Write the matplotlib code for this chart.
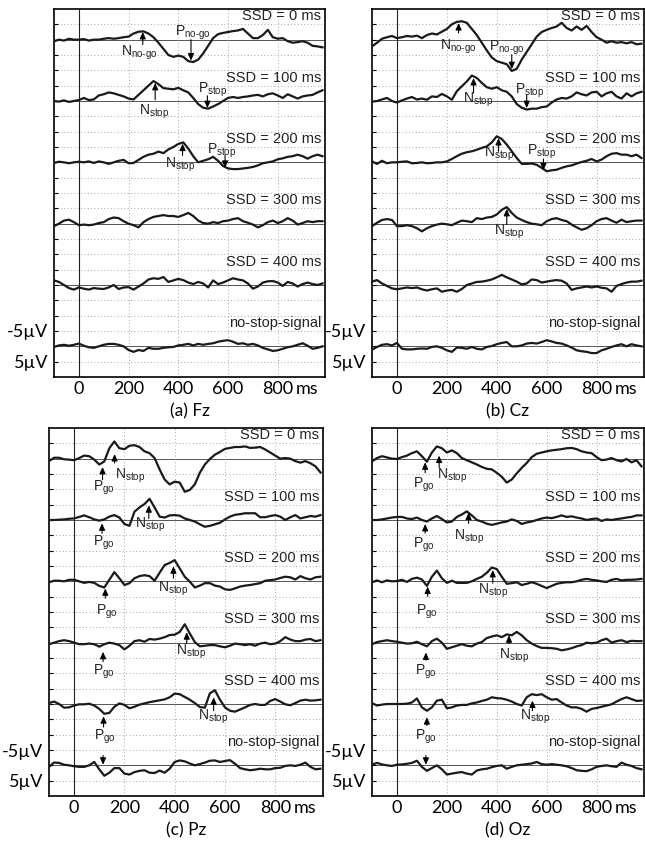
import numpy as np
import matplotlib.pyplot as plt

plt.rcParams['font.family'] = ['Liberation Sans', 'DejaVu Sans']
plt.rcParams['mathtext.fontset'] = 'custom'
plt.rcParams['mathtext.rm'] = 'Liberation Sans'
plt.rcParams['mathtext.default'] = 'regular'

# time axis (ms) and trace labels
time_ms = np.arange(-100, 1000, 20)
conditions = ['SSD = 0 ms', 'SSD = 100 ms', 'SSD = 200 ms', 'SSD = 300 ms', 'SSD = 400 ms', 'no-stop-signal']
x_ticks = [0, 200, 400, 600, 800]
x_ticklabels = ['0', '200', '400', '600', '800']
x_unit = 'ms'

# ERP amplitudes in uV (negative plotted upwards), one list per condition
fz_ssd0 = [0.5,0,0.3,-0.3,0,0,-0.2,0.3,0,0,-0.3,-0.5,-0.3,-0.5,-0.8,-1.0,-2.0,-2.6,-2.7,-2.0,-0.8,1.0,3.0,5.0,5.6,5.2,5.6,7.0,7.3,6.5,4.5,2.0,-0.5,-1.8,-2.2,-2.5,-2.8,-3.0,-3.5,-2.0,-0.5,-0.5,-1.5,-3.2,-0.8,-0.3,-0.5,0.5,1.0,0.8,0.5,1.0,2.0,2.2,2.5]
fz_ssd100 = [0,0.2,-0.2,0.3,0,-0.3,-1.0,-0.3,-0.5,-1.8,-2.2,-2.8,-2.5,-2.0,-1.5,-0.8,-0.5,-2.0,-3.5,-5.0,-6.5,-5.5,-4.2,-4.0,-3.8,-4.3,-3.5,-2.8,-1.0,1.0,2.2,2.5,1.8,1.0,0,-1.0,-1.3,-1.0,-1.3,-1.5,-1.8,-2.0,-1.5,-2.2,-2.5,-1.8,-1.0,-2.2,-1.5,-0.8,-1.5,-1.8,-2.0,-2.8,-3.5]
fz_ssd200 = [0.2,-0.2,0,0.3,0,-0.2,0,-0.3,0.2,-0.3,0,0.5,0,-0.5,-0.8,0.3,0.2,-0.8,-1.8,-2.5,-2.8,-3.5,-3.0,-4.2,-5.0,-6.0,-6.5,-4.5,-2.0,0,-0.5,-1.0,-1.8,-0.5,1.2,2.0,2.2,2.2,2.0,1.8,1.5,1.0,0.3,0,-0.3,-1.0,-1.3,-1.8,-2.0,-2.5,-2.0,-1.2,-2.0,-2.5,-2.0]
fz_ssd300 = [0.8,0,-1.0,-1.3,-0.5,0.5,0.3,0.5,0.3,-0.2,-0.5,-1.5,-2.0,-1.8,-0.8,0,0.5,1.2,-0.5,-1.5,-2.2,-2.5,-2.8,-2.5,-2.5,-2.2,-2.8,-3.5,-2.5,-1.0,-0.2,0,-0.5,-0.2,-0.8,-1.0,-1.5,-1.8,-0.8,-0.3,0.3,1.2,0.5,-0.5,-1.0,-0.2,-0.8,-1.8,-1.0,0.3,-0.2,-0.8,-0.5,-0.8,-0.8]
fz_ssd400 = [-1.5,-1.0,0,1.0,1.5,0.8,1.2,1.5,1.0,1.2,1.3,0.8,0,1.3,0.8,0.7,1.5,0.5,-0.5,-1.8,-2.2,-2.0,-2.6,-1.0,-1.5,-2.0,-1.6,-0.8,-0.3,-1.0,-0.5,0.8,-1.5,-0.3,-0.8,-1.5,-2.2,-1.8,-1.5,-0.5,1.2,0.5,-0.8,-1.2,-1.3,-0.8,0.3,-1.0,-0.5,0.5,-0.3,-0.8,-0.3,0,-0.5]
fz_nostop = [0.2,-0.3,-0.5,-0.2,-0.5,-0.9,-0.2,0.3,0.5,0,-0.5,-0.8,-0.8,-0.5,0,1.2,1.8,1.2,1.5,0.5,0.8,0.8,0.5,0.3,0.2,-0.3,-0.5,-0.8,-0.3,-0.8,-0.5,-0.8,-1.0,-1.5,-1.8,-2.0,-1.5,-0.8,-1.0,-0.5,-0.8,-0.3,0.5,1.0,1.5,1.3,0.8,0.3,0,-0.5,-1.0,-0.2,0.8,0.5,0]

cz_ssd0 = [2.2,1.0,-0.3,-0.8,-1.2,-0.5,-0.8,-1.2,-1.0,-1.3,-0.5,-1.5,-2.0,-1.7,-2.6,-3.5,-5.0,-5.8,-6.0,-5.5,-3.5,-1.5,1.0,3.5,5.8,7.0,7.5,8.0,10.2,9.5,6.5,4.0,1.5,-1.0,-2.5,-3.2,-3.8,-4.3,-5.5,-3.8,-3.0,-4.3,-3.2,-4.5,-2.5,-0.8,0,1.0,0.5,1.0,0.8,1.2,0.8,1.5,1.3]
cz_ssd100 = [0.2,0,-0.5,-1.0,0,0.5,-0.2,-0.8,-1.3,-0.5,-0.8,-0.4,-1.5,-1.3,-2.3,-1.5,-0.4,-3.2,-4.8,-6.4,-8.3,-7.5,-5.9,-4.5,-4.0,-4.5,-3.5,-3.0,-1.5,1.0,2.2,2.8,2.5,2.5,2.0,1.8,0.5,-0.5,-1.0,-0.8,-1.5,-2.8,-2.2,-1.8,-2.8,-3.0,-1.5,-2.5,-3.0,-1.5,-0.8,-2.5,-1.5,-2.5,-3.0]
cz_ssd200 = [-0.3,0.5,-0.5,0.3,0,0,-0.2,-0.3,0.3,0.2,0,0.3,0.2,0,0,-0.3,-1.1,-2.0,-2.8,-3.3,-3.6,-4.1,-4.7,-5.2,-6.5,-8.5,-7.6,-5.8,-3.6,-1.4,0.5,0.5,0.4,0.8,1.8,2.9,2.6,2.4,1.8,1.3,1.0,0.4,-0.1,-0.5,-1.1,-0.3,-0.9,-2.0,-2.8,-3.0,-2.5,-2.5,-2.0,-2.5,-1.4]
cz_ssd300 = [0.8,-0.3,-1.2,-1.5,-1.2,0.8,0.8,0.5,0.8,1.5,2.5,1.5,0.8,0.3,0,0.2,0.5,-0.3,-1.0,-0.8,-0.5,-1.8,-1.5,-2.0,-2.2,-3.0,-4.5,-5.4,-3.5,-2.0,-1.2,-0.5,0,0.2,0.5,-0.8,-1.5,-1.8,-1.2,-0.8,0.3,1.2,2.0,1.5,0.5,-0.8,-1.5,-1.8,-1.0,-0.3,-1.3,-0.5,-0.8,-1.0,-1.0]
cz_ssd400 = [-1.1,-1.6,-0.5,0.3,1.1,1.4,1.1,0.8,1.0,0.8,1.4,1.8,1.4,1.1,2.2,1.8,1.6,2.2,1.3,0,-0.5,-1.0,-1.1,-1.4,-1.8,-2.5,-3.3,-2.5,-1.8,-1.1,-0.2,-0.5,-1.8,-1.6,-0.8,-1.1,-1.4,-1.6,-1.4,-0.5,1.6,1.1,0.8,0.5,0.8,0.5,0.9,1.1,2.2,0.3,-0.3,-0.8,-1.1,-1.1,-1.4]
cz_nostop = [1.1,0.2,-0.5,-0.7,-0.3,-1.1,0.8,1.0,1.0,0.8,0.7,0.8,0.2,0,0.5,1.3,1.8,0.4,0.5,0.8,0.2,0.8,1.0,0.2,-0.1,-0.7,-1.1,-1.4,0,0,-0.3,-0.9,-1.1,-0.9,-1.4,-2.0,-1.6,-1.1,-0.9,-0.3,0.4,1.3,1.6,1.8,2.2,2.2,1.3,0.8,0.2,-0.3,-0.7,0,-0.7,-0.3,0]

pz_ssd0 = [0.8,-0.3,-0.3,0.2,0.3,0.5,-0.2,-1.0,-0.8,0.3,1.9,0.9,-3.4,-5.6,-3.4,-3.1,-4.2,-4.4,-3.8,-2.4,-1.8,-0.2,3.5,6.8,8.4,7.5,7.8,10.8,10.2,8.4,4.6,1.9,0.1,-1.3,-2.2,-3.2,-3.5,-3.8,-3.8,-4.0,-3.5,-3.6,-3.8,-3.0,-2.0,-1.0,0,-0.2,0,0.8,1.3,0.8,1.5,2.5,4.5]
pz_ssd100 = [0,0,-0.1,-0.2,-0.4,-0.5,-1.0,-1.5,-0.9,-0.2,0.2,-0.2,-1.1,-1.6,-0.8,1.3,1.9,-2.7,-4.1,-5.2,-6.9,-4.1,-1.1,-0.8,-1.5,-1.6,-1.4,-0.5,0,0.5,1.4,2.2,1.9,1.4,0.9,-0.2,-1.1,-1.7,-1.9,-2.2,-2.2,-2.2,-0.9,-0.9,-1.3,-1.6,-1.1,0,-0.9,-1.6,-0.5,-0.9,-1.3,-1.1,-1.6]
pz_ssd200 = [0.3,-0.2,-0.2,0,-0.5,-0.5,0,0.5,0.2,0.5,1.5,2.0,-0.5,-3.0,-1.0,1.2,0.6,-1.0,-1.7,-2.0,-1.7,-0.2,-2.8,-5.3,-6.0,-6.9,-4.2,-1.5,0.1,2.0,1.4,0.6,0.6,1.4,1.7,2.6,2.8,2.3,1.7,1.4,1.2,0.9,0.6,-0.2,-0.4,-0.6,-1.1,-1.5,-1.3,-0.6,-1.7,-1.0,-0.6,-1.3,-1.5]
pz_ssd300 = [0.5,0,-0.5,-0.8,-0.5,0,0.5,0.5,0.3,0.5,1.3,0.5,0,0.3,0.8,2.2,1.0,-0.5,-0.8,-0.3,-1.2,-1.0,-1.3,-1.8,-2.5,-2.6,-3.5,-6.0,-3.0,-0.2,1.2,1.0,0.8,0.8,1.2,1.5,1.0,0.3,0.5,0.8,0.5,1.0,0.3,0,0.5,0.3,-0.5,-1.8,-1.0,-0.5,-0.5,-1.0,-1.2,-0.5,-0.8]
pz_ssd400 = [-0.3,-0.8,0,1.2,1.1,0.5,0.1,0.1,-0.1,0.5,1.6,3.2,2.9,0.9,-0.2,0.3,1.4,0.9,0.2,-0.2,-0.6,-0.9,-1.2,-1.5,-2.2,-3.4,-3.2,-2.3,-1.4,-0.3,1.0,1.2,-3.5,-4.5,-1.4,1.1,2.2,2.5,1.8,1.1,0.3,0,0.3,0.3,-1.0,-1.6,-0.8,0.1,0.4,-0.3,-1.1,-1.4,-1.1,-1.2,-1.4]
pz_nostop = [0.5,-0.9,-0.8,-0.2,0,0.3,0.5,0.5,0,-1.1,1.3,3.4,2.4,0.9,0.9,2.7,3.0,2.2,1.8,1.6,2.4,2.5,1.7,2.4,1.1,-1.1,-1.6,-1.3,-0.6,0,-0.4,-0.9,-1.5,-1.6,-1.1,-1.4,-1.7,-0.5,0.9,1.3,1.6,1.4,1.1,1.3,1.3,0.9,0.8,0.2,0,0.2,-0.2,-0.9,0.5,1.3,1.1]

oz_ssd0 = [0.9,-0.2,-0.8,-0.4,0,0.1,-0.5,-1.0,-1.8,-2.4,-0.8,1.0,-2.0,-4.0,-3.4,-2.0,-2.7,-1.8,-0.2,0.5,1.2,1.9,2.7,3.3,3.5,4.6,5.9,7.8,6.8,4.8,3.0,1.4,-0.5,-1.6,-2.0,-2.4,-2.7,-2.9,-3.1,-3.4,-3.5,-3.1,-2.4,-2.0,-1.8,-0.5,0.5,0.3,-0.2,0.5,0.9,0.1,1.2,0.5,2.5]
oz_ssd100 = [0,0,-0.2,-0.5,-0.8,-1.0,-1.0,-0.5,-0.3,-0.8,0,0.5,-0.5,-1.3,-0.3,0.8,0.5,-1.0,-1.8,-2.8,-1.5,0,0.5,1.2,1.6,1.2,0.8,0.5,-0.2,0.3,1.3,0.8,0.5,0,-0.5,-0.8,-0.6,-1.0,-1.5,-1.0,-1.2,-0.8,-0.5,0,-0.3,-0.5,0.3,-0.2,0,-0.3,-0.5,-0.8,-1.0,-1.5,-1.5]
oz_ssd200 = [0.3,-0.3,0.3,-0.3,0,-0.1,-0.5,0.2,-0.8,-1.2,-0.6,1.5,-1.5,-3.5,-1.0,0.5,-0.2,0.5,0.5,0.5,0,-0.8,-1.5,-2.8,-4.5,-4.0,-1.5,0.8,0.6,0.3,1.2,0.8,0.3,0.8,1.5,2.2,1.5,0.8,0.5,0.3,0.3,0,-0.5,-0.8,-0.5,-0.3,0,0.2,-0.5,-0.8,-0.3,-0.5,-0.5,-0.6,-0.8]
oz_ssd300 = [0.5,-0.2,-0.5,-0.8,-0.5,-0.3,0,0.3,0.2,-0.3,0.5,1.2,-0.5,-1.3,0,2.0,1.5,1.0,0.5,1.0,1.2,0.3,-0.2,-1.5,-2.0,-2.4,-1.8,-2.7,-2.4,-3.5,-2.4,-0.8,0.3,1.1,1.7,1.7,1.8,2.0,2.5,2.2,1.8,1.2,0.8,0,0.2,0,-0.8,-1.3,0,-0.5,-0.8,-0.2,-0.6,-0.5,-0.5]
oz_ssd400 = [-0.3,0.5,0.2,0,0,0,0,-0.1,-0.5,-1.8,1.1,2.2,1.1,-1.1,-1.4,1.4,1.1,0.5,0.3,0.3,-0.2,-0.5,-1.0,-1.4,-2.2,-1.9,-1.8,-1.4,-0.8,0,0.5,-2.2,-3.2,-2.9,-3.2,-2.2,-1.4,-1.6,-0.5,0.5,1.1,1.1,1.6,2.5,1.6,1.3,0.9,0.5,0.1,-0.8,-1.6,-2.2,-1.6,-1.0,-1.1]
oz_nostop = [-0.2,-0.8,-0.3,0,0.2,-0.2,-0.3,-0.5,-0.8,-1.5,0.5,1.8,0.9,0,1.3,3.0,2.7,2.4,2.2,2.7,3.0,1.7,1.3,1.1,0.6,0.2,0,1.1,0.5,0,-0.2,-0.4,-0.6,-1.1,-0.4,-0.2,-0.4,-0.2,0,0.3,0.9,1.6,1.8,1.9,1.3,0.5,0.2,0,0.3,0.5,-0.9,-0.2,0.2,0.9,1.3]

# component markers: (trace, t arrow, arrow tail, arrow head, letter, subscript, t label, label height)
fz_marks = [(0, 257, -1.6, 2.5, 'N', 'no-go', 245, -4.3), (0, 451, 0.0, -6.8, 'P', 'no-go', 457, 2.2),
            (1, 307, 0.4, 5.9, 'N', 'stop', 304, -3.7), (1, 517, 1.7, -2.3, 'P', 'stop', 537, 3.6),
            (2, 417, 2.2, 6.1, 'N', 'stop', 408, -0.8), (2, 588, 2.3, -1.8, 'P', 'stop', 574, 3.7)]
cz_marks = [(0, 247, 2.2, 5.4, 'N', 'no-go', 244, -2.2), (0, 460, -4.9, -9.6, 'P', 'no-go', 440, -2.7),
            (1, 307, 2.6, 7.5, 'N', 'stop', 327, 0.4), (1, 520, 2.1, -2.3, 'P', 'stop', 533, 3.4),
            (2, 407, 3.6, 7.9, 'N', 'stop', 409, 2.8), (2, 587, 1.1, -2.6, 'P', 'stop', 578, 3.3),
            (3, 440, -0.3, 4.8, 'N', 'stop', 449, -2.7)]
pz_marks = [(0, 113, -6.8, -2.7, 'P', 'go', 117, -9.5), (0, 161, -1.4, 1.5, 'N', 'stop', 221, -5.5),
            (1, 297, 0.5, 4.8, 'N', 'stop', 304, -1.6), (1, 111, -4.3, -1.1, 'P', 'go', 120, -7.3),
            (2, 395, 1.0, 4.9, 'N', 'stop', 393, -2.3), (2, 124, -5.5, -2.3, 'P', 'go', 129, -9.8),
            (3, 448, -0.3, 3.4, 'N', 'stop', 464, -3.0), (3, 115, -6.2, -3.0, 'P', 'go', 117, -9.5),
            (4, 555, -2.2, 2.2, 'N', 'stop', 553, -4.3), (4, 117, -7.5, -4.0, 'P', 'go', 121, -10.8),
            (5, 115, 3.2, 0.2, None, None, 0, 0)]
oz_marks = [(0, 113, -4.6, -1.2, 'P', 'go', 107, -8.4), (0, 169, -3.0, 1.0, 'N', 'stop', 220, -5.5),
            (1, 113, -4.3, -1.3, 'P', 'go', 107, -8.1), (1, 287, -1.1, 2.4, 'N', 'stop', 287, -5.4),
            (2, 123, -4.9, -1.7, 'P', 'go', 120, -9.8), (2, 384, -0.6, 3.7, 'N', 'stop', 387, -3.0),
            (3, 449, -0.3, 2.4, 'N', 'stop', 469, -4.3), (3, 116, -5.7, -3.2, 'P', 'go', 117, -9.5),
            (4, 543, -2.2, 1.1, 'N', 'stop', 553, -4.3), (4, 120, -7.0, -4.3, 'P', 'go', 117, -10.8),
            (5, 116, 3.2, 0.2, None, None, 0, 0)]

panels = [
    ('(a) Fz', [fz_ssd0, fz_ssd100, fz_ssd200, fz_ssd300, fz_ssd400, fz_nostop], fz_marks, (54, 9, 325, 377)),
    ('(b) Cz', [cz_ssd0, cz_ssd100, cz_ssd200, cz_ssd300, cz_ssd400, cz_nostop], cz_marks, (372, 9, 644, 377)),
    ('(c) Pz', [pz_ssd0, pz_ssd100, pz_ssd200, pz_ssd300, pz_ssd400, pz_nostop], pz_marks, (49, 428, 323, 796)),
    ('(d) Oz', [oz_ssd0, oz_ssd100, oz_ssd200, oz_ssd300, oz_ssd400, oz_nostop], oz_marks, (372, 428, 644, 796)),
]

W, H = 645, 844
fig = plt.figure(figsize=(W / 100, H / 100), dpi=100)
bases = [100 - 20 * k for k in range(6)]

for caption, traces, marks, (l, t, r, b) in panels:
    ax = fig.add_axes([l / W, 1 - b / H, (r - l) / W, (b - t) / H])
    ax.set_xlim(-100, 990)
    ax.set_ylim(-10, 110)

    # grid
    for y in range(-5, 110, 5):
        if y % 20 == 0:
            ax.axhline(y, color='#555555', lw=0.7, zorder=1)
        else:
            ax.axhline(y, color='#888888', lw=0.6, ls=(0, (1, 3)), zorder=1)
    for x in [200, 400, 600, 800]:
        ax.axvline(x, color='#888888', lw=0.6, ls=(0, (1, 3)), zorder=1)
    ax.axvline(0, color='#222222', lw=0.8, zorder=1)

    for k, v in enumerate(traces):
        assert len(v) == len(time_ms)
        ax.plot(time_ms, bases[k] - np.array(v), color='#1a1a1a', lw=1.6,
                solid_joinstyle='round', zorder=3)
        ax.text(975, bases[k] + 7.6, conditions[k], ha='right', va='center',
                fontsize=10.5, color='#222222', zorder=4)

    for k, tm, tail, head, letter, sub, tl, ul in marks:
        ax.annotate('', xy=(tm, bases[k] + head), xytext=(tm, bases[k] + tail),
                    arrowprops=dict(arrowstyle='-|>,head_width=0.18,head_length=0.4',
                                    color='black', lw=0.8, shrinkA=0, shrinkB=0), zorder=5)
        if letter:
            ax.text(tl, bases[k] + ul, letter + r'$_{\text{' + sub + '}}$', ha='center',
                    va='center', fontsize=10, color='#222222', zorder=5)

    ax.set_xticks(x_ticks, x_ticklabels, fontsize=13, fontfamily='Lato')
    ax.tick_params(axis='x', length=0, pad=3)
    ax.annotate(x_unit, xy=(872, 0), xycoords=ax.get_xaxis_transform(), xytext=(0, -3),
                textcoords='offset points', ha='left', va='top', fontsize=13, fontfamily='Lato',
                annotation_clip=False)
    yt = list(range(-5, 110, 5))
    ax.set_yticks(yt, ['-5µV' if y == 5 else ('5µV' if y == -5 else '') for y in yt],
                  fontsize=13, fontfamily='Lato')
    ax.tick_params(axis='y', direction='in', length=3, width=0.8, pad=4)
    for sp in ax.spines.values():
        sp.set_linewidth(1.2)

    fig.text((l + r) / 2 / W, 1 - (b + 34) / H, caption, ha='center', va='center',
             fontsize=12.5, fontfamily='Lato')

fig.savefig('out.png', dpi=100)
